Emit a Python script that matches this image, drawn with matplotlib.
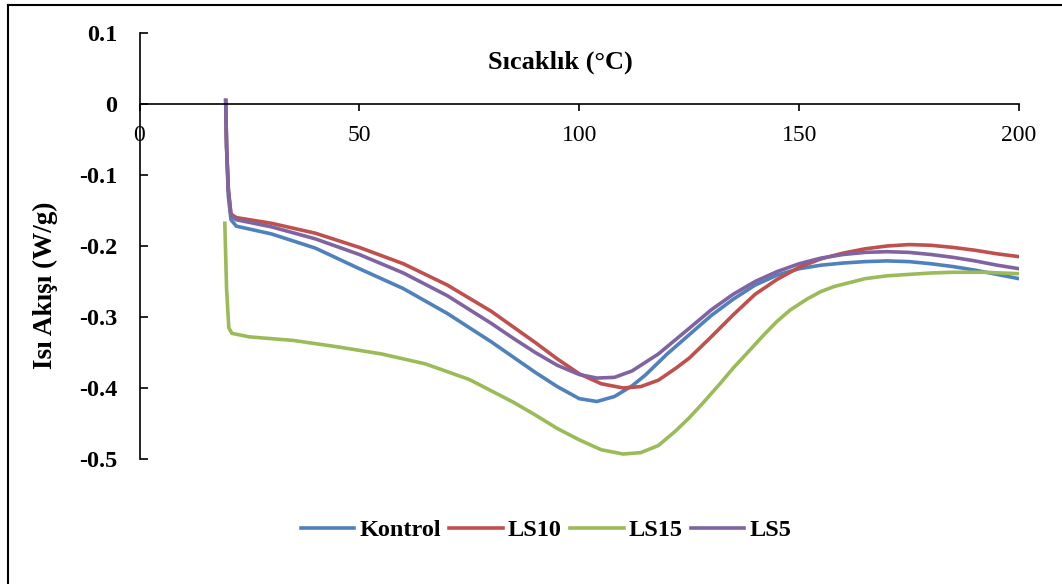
import matplotlib.pyplot as plt
from matplotlib.lines import Line2D

plt.rcParams['font.family'] = ['Liberation Serif', 'DejaVu Serif']

# Kontrol
x_kontrol = [19.6, 19.8, 20.2, 20.8, 22, 30, 40, 50, 60, 70, 80, 90, 95, 100, 104, 108, 112,
             115, 120, 130, 135, 140, 145, 150, 155, 160, 165, 170, 175, 180, 185, 190, 195, 200]
y_kontrol = [0.005, -0.06, -0.13, -0.163, -0.172, -0.183, -0.203, -0.232, -0.260, -0.295, -0.335,
             -0.378, -0.398, -0.415, -0.419, -0.412, -0.397, -0.382, -0.352, -0.298, -0.275,
             -0.255, -0.241, -0.232, -0.227, -0.224, -0.222, -0.221, -0.222, -0.225, -0.229,
             -0.234, -0.240, -0.246]

# LS10
x_ls10 = [19.6, 19.8, 20.2, 20.8, 22, 30, 40, 50, 60, 70, 80, 85, 90, 95, 100, 105, 110, 114,
          118, 122, 125, 130, 135, 140, 145, 150, 155, 160, 165, 170, 175, 180, 185, 190, 195, 200]
y_ls10 = [0.005, -0.06, -0.12, -0.155, -0.160, -0.168, -0.182, -0.202, -0.225, -0.255, -0.292,
          -0.314, -0.336, -0.359, -0.380, -0.394, -0.400, -0.398, -0.389, -0.372, -0.358, -0.328,
          -0.297, -0.268, -0.247, -0.230, -0.218, -0.210, -0.204, -0.200, -0.198, -0.199,
          -0.202, -0.206, -0.211, -0.215]

# LS15
x_ls15 = [19.4, 19.8, 20.3, 21, 25, 35, 45, 55, 65, 75, 85, 90, 95, 100, 105, 110, 114, 118,
          122, 125, 128, 132, 135, 138, 142, 145, 148, 152, 155, 158, 165, 170, 175, 180, 185,
          192, 200]
y_ls15 = [-0.168, -0.26, -0.315, -0.323, -0.328, -0.333, -0.342, -0.352, -0.366, -0.388, -0.420,
          -0.438, -0.457, -0.473, -0.487, -0.493, -0.491, -0.481, -0.460, -0.442, -0.422, -0.394,
          -0.372, -0.352, -0.325, -0.306, -0.290, -0.274, -0.264, -0.257, -0.246, -0.242,
          -0.240, -0.238, -0.237, -0.237, -0.239]

# LS5
x_ls5 = [19.6, 19.8, 20.2, 20.8, 22, 30, 40, 50, 60, 70, 80, 85, 90, 95, 100, 104, 108, 112,
         118, 125, 130, 135, 140, 145, 150, 155, 160, 165, 170, 175, 180, 185, 190, 195, 200]
y_ls5 = [0.005, -0.06, -0.12, -0.157, -0.163, -0.173, -0.190, -0.212, -0.238, -0.270, -0.309,
         -0.330, -0.350, -0.368, -0.381, -0.386, -0.385, -0.376, -0.352, -0.316, -0.290, -0.268,
         -0.250, -0.236, -0.225, -0.217, -0.212, -0.209, -0.208, -0.209, -0.212, -0.216,
         -0.221, -0.227, -0.232]

xticks = [0, 50, 100, 150, 200]
yticks = [0.1, 0, -0.1, -0.2, -0.3, -0.4, -0.5]
ytick_labels = ['0.1', '0', '-0.1', '-0.2', '-0.3', '-0.4', '-0.5']

fig = plt.figure(figsize=(10.62, 5.84), dpi=100)
ax = fig.add_axes([139.5 / 1062, 1 - 459 / 584, (1019 - 139.5) / 1062, (459 - 33) / 584])

lw = 2.6
ax.plot(x_kontrol, y_kontrol, color='#4F81BD', lw=lw, label='Kontrol', solid_joinstyle='round')
ax.plot(x_ls10, y_ls10, color='#C0504D', lw=lw, label='LS10', solid_joinstyle='round')
ax.plot(x_ls15, y_ls15, color='#9BBB59', lw=lw, label='LS15', solid_joinstyle='round')
ax.plot(x_ls5, y_ls5, color='#8064A2', lw=lw, label='LS5', solid_joinstyle='round')

ax.set_xlim(0, 200)
ax.set_ylim(-0.5, 0.1)
ax.spines['top'].set_visible(False)
ax.spines['right'].set_visible(False)
ax.spines['bottom'].set_position(('data', 0))
for s in ('left', 'bottom'):
    ax.spines[s].set_linewidth(1.2)

ax.set_xticks(xticks)
ax.set_xticklabels([str(v) for v in xticks], fontsize=17)
ax.set_yticks(yticks)
ax.set_yticklabels(ytick_labels, fontsize=17.5, fontweight='bold')
ax.tick_params(axis='x', direction='out', length=5, width=1.2, pad=10)
ax.tick_params(axis='y', direction='in', length=6, width=1.2, pad=16)

fig.text(560 / 1062, 1 - 62 / 584, 'Sıcaklık (°C)', fontsize=19, fontweight='bold',
         ha='center', va='center')
fig.text(45 / 1062, 1 - 285 / 584, 'Isı Akışı (W/g)', fontsize=19.5, fontweight='bold',
         ha='center', va='center', rotation=90)

fig.legend(loc='center', bbox_to_anchor=(546 / 1062, 1 - 530 / 584), ncol=4, frameon=False,
           prop={'size': 17.5, 'weight': 'bold'}, handlelength=2.2, handletextpad=0.2,
           columnspacing=0.35)

# chart border (left and top edges visible)
fig.add_artist(Line2D([8 / 1062, 8 / 1062], [0, 1 - 5 / 584], color='black', lw=1.5,
                      transform=fig.transFigure))
fig.add_artist(Line2D([8 / 1062, 1], [1 - 5 / 584, 1 - 5 / 584], color='black', lw=1.5,
                      transform=fig.transFigure))

fig.savefig('out.png', dpi=100)
